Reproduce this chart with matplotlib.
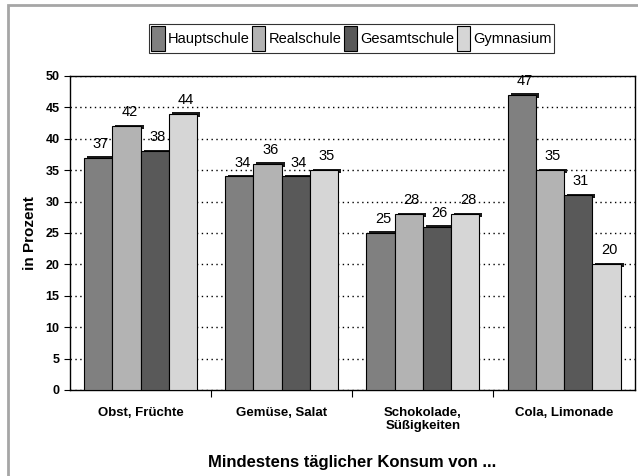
import numpy as np
import matplotlib
matplotlib.use("Agg")
import matplotlib.pyplot as plt
import matplotlib.transforms as mtransforms
from matplotlib.patches import Rectangle

plt.rcParams["font.family"] = ["Liberation Sans", "DejaVu Sans"]

# ---- data ----
categories = ["Obst, Früchte", "Gemüse, Salat", "Schokolade,\nSüßigkeiten", "Cola, Limonade"]
series = ["Hauptschule", "Realschule", "Gesamtschule", "Gymnasium"]
hauptschule = [37, 34, 25, 47]
realschule = [42, 36, 28, 35]
gesamtschule = [38, 34, 26, 31]
gymnasium = [44, 35, 28, 20]
values = [hauptschule, realschule, gesamtschule, gymnasium]
colors = ["#808080", "#b3b3b3", "#595959", "#d6d6d6"]

fig = plt.figure(figsize=(6.38, 4.76), dpi=100)
ax = fig.add_axes([0.1097, 0.1807, 0.885, 0.6597])

# outer frame
fig.patches.append(Rectangle((0.0125, -0.01), 1.1, 0.9995, transform=fig.transFigure,
                             fill=False, edgecolor="#a6a6a6", linewidth=2))

x = np.arange(len(categories))
w = 0.2
shadow = mtransforms.offset_copy(ax.transData, fig=fig, x=3, y=1.5, units="dots")

for j, (name, vals, col) in enumerate(zip(series, values, colors)):
    pos = x + (j - 1.5) * w
    # thin dark strip on top of each column (3D look)
    ax.bar(pos, [0.7] * len(vals), bottom=np.array(vals) - 0.7, width=w,
           color="#1a1a1a", transform=shadow, zorder=2)
    bars = ax.bar(pos, vals, width=w, color=col, edgecolor="black", linewidth=0.8,
                  label=name, zorder=3)
    for b, v in zip(bars, vals):
        ax.annotate(str(v), (b.get_x() + b.get_width() / 2 + 0.02, v),
                    xytext=(0, 5), textcoords="offset points",
                    ha="center", va="bottom", fontsize=10.5, zorder=4)

ax.set_xlim(-0.5, 3.5)
ax.set_ylim(0, 50)
ax.set_yticks(np.arange(0, 51, 5))
ax.set_yticklabels([str(t) for t in range(0, 51, 5)], fontweight="bold", fontsize=9)

ax.set_xticks([0.5, 1.5, 2.5])
ax.set_xticklabels([])
ax.set_xticks(x, minor=True)
ax.set_xticklabels(categories, minor=True, fontweight="bold", fontsize=9.5)
ax.tick_params(axis="x", which="major", length=5, direction="out")
ax.tick_params(axis="x", which="minor", length=0, pad=12)
ax.tick_params(axis="y", length=4, direction="out")

ax.yaxis.grid(True, linestyle=(0, (1, 2.5)), color="black", linewidth=1.0)
ax.set_axisbelow(True)
for s in ax.spines.values():
    s.set_color("black")
    s.set_linewidth(1.0)

ax.set_ylabel("in Prozent", fontweight="bold", fontsize=11, labelpad=6)
ax.set_xlabel("Mindestens täglicher Konsum von ...", fontweight="bold", fontsize=12, labelpad=16)

leg = ax.legend(loc="center", bbox_to_anchor=(0.551, 0.919), bbox_transform=fig.transFigure,
                ncol=4, fontsize=10.5, frameon=True, fancybox=False, edgecolor="black",
                handlelength=0.9, handleheight=2.2, handletextpad=0.2, columnspacing=0.2,
                borderpad=0.15, borderaxespad=0)
leg.get_frame().set_linewidth(0.8)

fig.savefig("out.png", dpi=100)
